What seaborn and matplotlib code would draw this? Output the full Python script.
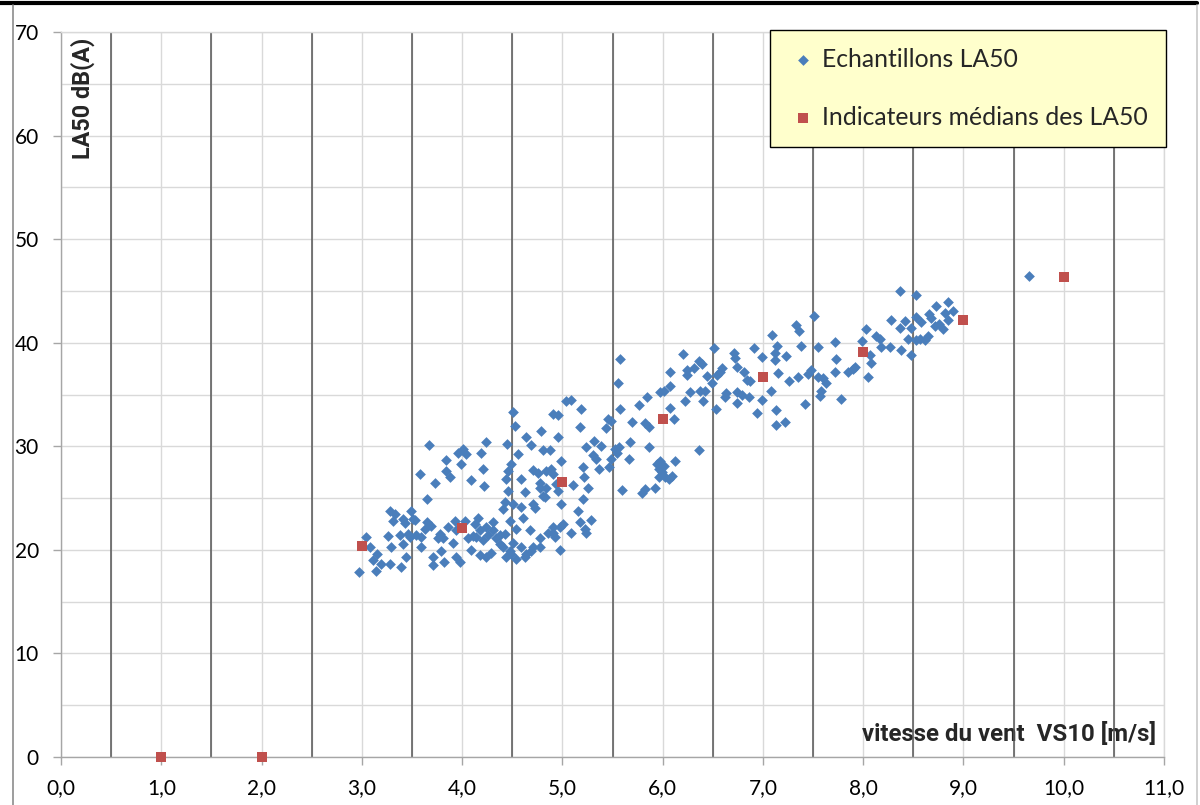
import matplotlib
matplotlib.use("Agg")
import matplotlib.pyplot as plt
from matplotlib.lines import Line2D
import pandas as pd
import seaborn as sns

# ---------------- data ----------------
sample_vs10 = [
    2.97, 3.04, 3.08, 3.11, 3.15, 3.14, 3.19, 3.26, 3.28, 3.29,
    3.31, 3.33, 3.39, 3.41, 3.44, 3.46, 3.49, 3.51, 3.38, 3.41,
    3.48, 3.58, 3.59, 3.59, 3.65, 3.67, 3.65, 3.69, 3.71, 3.73,
    3.71, 3.76, 3.79, 3.82, 3.84, 3.86, 3.84, 3.88, 3.91, 3.93,
    3.94, 3.96, 3.98, 3.99, 4.01, 4.03, 4.04, 4.06, 4.09, 4.09,
    4.13, 4.16, 4.14, 4.19, 4.21, 4.22, 4.18, 4.24, 4.24, 4.24,
    4.26, 4.29, 4.31, 4.34, 4.38, 4.41, 4.43, 4.44, 4.45, 4.44,
    4.46, 4.48, 4.49, 4.49, 4.51, 4.53, 4.54, 4.56, 4.59, 4.59,
    4.61, 4.63, 4.64, 4.64, 4.68, 4.69, 4.71, 4.71, 4.73, 4.76,
    4.78, 4.78, 4.79, 4.81, 4.83, 4.84, 4.86, 4.88, 4.89, 4.91,
    4.93, 4.96, 4.96, 4.98, 4.99, 4.99, 5.01,
    3.28, 3.43, 3.53, 3.54, 3.63, 3.78, 3.81, 3.94, 4.11, 4.18,
    4.21, 4.31, 4.38, 4.43, 4.48, 4.54, 4.63, 4.69, 4.78, 4.91,
    4.98, 4.41, 4.51, 4.46, 4.59, 4.71, 4.81, 4.84, 4.91, 4.94,
    4.78, 4.51,
    4.91, 4.96, 5.04, 5.09, 5.19, 5.18, 5.24, 5.32, 5.31, 5.34,
    5.39, 5.37, 5.21, 5.22, 5.26, 5.21, 5.11, 5.46, 5.44, 5.49,
    5.47, 5.49, 5.52, 5.56, 5.54, 5.57, 5.55, 5.57, 5.59, 5.66,
    5.67, 5.69, 5.76, 5.79, 5.82, 5.84, 5.82, 5.86, 5.86, 5.92,
    5.94, 5.96, 5.97, 5.99, 6.01, 6.02, 5.96, 5.97, 6.01, 6.07,
    6.07, 6.07, 6.11, 6.09, 6.06, 6.12, 6.20, 6.22, 6.24, 6.24,
    6.27, 6.31, 6.36, 6.37, 6.39, 6.40, 6.36, 6.42, 6.44, 6.49,
    6.51, 6.53, 6.54, 6.57, 6.59, 6.62, 6.63, 6.71, 6.72, 6.74,
    6.74, 6.74, 6.79, 6.81, 6.84, 6.86, 6.87, 6.91, 6.94, 6.99,
    6.99, 5.16, 5.18, 5.29, 5.23, 5.24, 5.09,
    7.09, 7.14, 7.12, 7.12, 7.15, 7.08, 7.13, 7.13, 7.22, 7.23,
    7.26, 7.33, 7.36, 7.38, 7.35, 7.42, 7.45, 7.48, 7.51, 7.55,
    7.55, 7.57, 7.58, 7.60, 7.63, 7.72, 7.73, 7.72, 7.78, 7.85,
    7.90, 7.92, 7.99, 8.03, 8.05, 8.07, 8.08, 8.13, 8.17, 8.18,
    8.27, 8.28, 8.37, 8.37, 8.38, 8.42, 8.45, 8.48, 8.48, 8.53,
    8.53, 8.53, 8.57, 8.58, 8.62, 8.65, 8.66, 8.68, 8.72, 8.73,
    8.76, 8.80, 8.82, 8.85, 8.85, 8.90, 9.65,
]
sample_la50 = [
    17.9, 21.2, 20.3, 19.0, 19.6, 18.0, 18.6, 21.3, 18.6, 20.3,
    22.8, 23.5, 18.3, 23.0, 19.3, 21.5, 23.8, 23.0, 21.4, 20.6,
    21.2, 27.3, 21.2, 20.3, 24.9, 30.1, 22.7, 22.3, 19.3, 26.5,
    18.5, 21.1, 19.9, 18.8, 28.7, 22.2, 27.6, 27.0, 20.7, 22.8,
    19.3, 29.4, 18.8, 28.3, 29.7, 22.8, 29.3, 21.1, 26.7, 20.0,
    22.5, 23.1, 21.2, 29.4, 27.8, 26.2, 19.5, 22.2, 30.4, 19.3,
    21.4, 19.7, 22.7, 21.1, 21.4, 20.3, 24.6, 19.3, 30.2, 26.8,
    27.6, 22.8, 28.3, 19.6, 20.7, 32.0, 22.0, 29.3, 26.8, 20.3,
    23.1, 25.6, 30.9, 19.6, 21.9, 30.1, 27.7, 20.3, 24.0, 27.4,
    26.0, 21.1, 31.5, 29.6, 25.1, 27.6, 21.6, 29.6, 27.8, 22.2,
    21.2, 25.7, 30.9, 20.0, 24.4, 28.6, 22.5,
    23.8, 22.6, 22.9, 21.4, 22.0, 21.5, 21.1, 21.9, 21.3, 21.9,
    21.0, 21.9, 20.6, 21.5, 19.9, 19.1, 19.3, 19.9, 20.3, 21.6,
    22.2, 23.9, 24.4, 25.7, 24.1, 24.4, 25.2, 26.0, 27.3, 26.4,
    26.5, 33.3,
    33.1, 33.0, 34.4, 34.5, 33.6, 31.9, 29.9, 30.5, 29.2, 28.8,
    30.0, 27.8, 28.0, 27.0, 26.0, 24.9, 26.3, 32.6, 31.8, 32.4,
    28.0, 28.8, 29.7, 29.9, 29.4, 38.4, 36.1, 33.6, 25.8, 28.8,
    30.4, 32.3, 34.0, 25.5, 25.9, 34.8, 32.2, 31.9, 29.9, 26.0,
    28.3, 27.8, 28.6, 27.5, 28.1, 27.0, 27.0, 35.2, 35.3, 35.8,
    37.2, 33.7, 32.6, 27.1, 26.8, 28.6, 38.9, 34.4, 37.4, 36.9,
    35.2, 37.6, 38.2, 35.3, 37.9, 34.4, 29.6, 35.3, 36.8, 36.1,
    39.5, 33.6, 36.9, 37.2, 37.6, 34.8, 35.1, 39.0, 38.5, 37.7,
    35.2, 34.2, 35.0, 37.2, 36.4, 34.8, 36.3, 39.5, 33.2, 38.6,
    34.5, 23.8, 22.7, 22.9, 22.0, 21.6, 21.6,
    40.7, 39.7, 39.0, 38.3, 37.1, 35.3, 33.5, 32.1, 32.3, 38.7,
    36.3, 41.7, 41.1, 39.7, 36.7, 34.1, 37.0, 37.4, 42.6, 39.6,
    36.7, 34.9, 35.3, 36.6, 36.1, 40.1, 38.4, 37.2, 34.6, 37.2,
    37.5, 37.7, 40.2, 41.3, 36.7, 38.8, 38.0, 40.6, 40.4, 39.6,
    39.6, 42.2, 45.0, 41.4, 39.3, 42.1, 40.4, 38.8, 41.4, 44.6,
    42.5, 40.3, 40.4, 42.0, 40.3, 40.6, 42.8, 42.4, 41.6, 43.5,
    41.8, 41.3, 42.9, 43.9, 42.2, 43.1, 46.4,
]
median_vs10 = [1, 2, 3, 4, 5, 6, 7, 8, 9, 10]
median_la50 = [0.0, 0.0, 20.4, 22.1, 26.6, 32.6, 36.7, 39.1, 42.2, 46.3]

x_ticks = [0, 1, 2, 3, 4, 5, 6, 7, 8, 9, 10, 11]
x_tick_labels = ["0,0", "1,0", "2,0", "3,0", "4,0", "5,0", "6,0", "7,0",
                 "8,0", "9,0", "10,0", "11,0"]
x_minor = [0.5, 1.5, 2.5, 3.5, 4.5, 5.5, 6.5, 7.5, 8.5, 9.5, 10.5]
y_ticks = [0, 10, 20, 30, 40, 50, 60, 70]
y_minor = [5, 15, 25, 35, 45, 55, 65]
class_bounds = [0.5, 1.5, 2.5, 3.5, 4.5, 5.5, 6.5, 7.5, 8.5, 9.5, 10.5]

label_samples = "Echantillons LA50"
label_medians = "Indicateurs médians des LA50"
x_title = "vitesse du vent  VS10 [m/s]"
y_title = "LA50 dB(A)"

# ---------------- styling ----------------
sns.set_theme(style="white")
plt.rcParams["font.family"] = ["Lato", "DejaVu Sans"]
bold_family = ["Roboto", "DejaVu Sans"]

W, H = 1200, 805
fig = plt.figure(figsize=(W / 100, H / 100), dpi=100)
fig.patch.set_facecolor("white")
ax = fig.add_axes([61 / W, 1 - 757 / H, 1103 / W, 725 / H])

samples = pd.DataFrame({"vs10": sample_vs10, "la50": sample_la50})
medians = pd.DataFrame({"vs10": median_vs10, "la50": median_la50})

grid_c = "#D9D9D9"
ax.set_xlim(0, 11)
ax.set_ylim(0, 70)
ax.set_xticks(x_ticks)
ax.set_xticklabels(x_tick_labels)
ax.set_xticks(x_minor, minor=True)
ax.set_yticks(y_ticks)
ax.set_yticks(y_minor, minor=True)
ax.grid(True, which="both", color=grid_c, linewidth=1.0, zorder=0)
ax.set_axisbelow(True)

ax.vlines(class_bounds, 0, 70, colors="#555555", linewidth=1.1, zorder=1.5)

sns.scatterplot(data=samples, x="vs10", y="la50", marker="D", s=30,
                color="#4A7EBB", linewidth=0, label=label_samples, ax=ax,
                zorder=3)
sns.scatterplot(data=medians, x="vs10", y="la50", marker="s", s=56,
                color="#C0504D", linewidth=0, label=label_medians, ax=ax,
                zorder=4, clip_on=False)

ax.set_xlabel("")
ax.set_ylabel("")

for side in ["left", "bottom"]:
    ax.spines[side].set_color("#A6A6A6")
    ax.spines[side].set_linewidth(1.0)
for side in ["top", "right"]:
    ax.spines[side].set_color(grid_c)
    ax.spines[side].set_linewidth(1.0)

ax.tick_params(axis="both", which="major", direction="out", length=6,
               width=1.0, color="#A6A6A6", labelsize=15, labelcolor="black")
ax.tick_params(axis="both", which="minor", length=0)
ax.tick_params(axis="x", bottom=True, pad=9)
ax.tick_params(axis="y", left=True, pad=10)

ax.text(0.0195, 0.992, y_title, rotation=90, transform=ax.transAxes,
        ha="center", va="top", fontsize=16.8, fontweight="bold",
        family=bold_family, zorder=1.2)
ax.text(0.9925, 0.0225, x_title, transform=ax.transAxes, ha="right",
        va="baseline", fontsize=17.3, fontweight="bold",
        family=bold_family, zorder=1.2)

leg = ax.legend(loc="upper right", bbox_to_anchor=(1.0018, 1.003),
                borderaxespad=0, frameon=True, fancybox=False,
                facecolor="#FFFFCC", edgecolor="black", framealpha=1,
                fontsize=17.8, labelspacing=1.42, borderpad=0.72,
                handlelength=1.2, handletextpad=0.2)
leg.get_frame().set_linewidth(1.0)
leg.set_zorder(10)

# chart-area border
fig.add_artist(Line2D([0, 1197 / W], [1 - 3.5 / H] * 2, color="black",
                      linewidth=3, transform=fig.transFigure))
fig.add_artist(Line2D([13 / W] * 2, [0, 1 - 5 / H], color="#8C8C8C",
                      linewidth=1.2, transform=fig.transFigure))
fig.add_artist(Line2D([1197 / W] * 2, [0, 1 - 5 / H], color="#C8C8C8",
                      linewidth=1.2, transform=fig.transFigure))

fig.savefig("out.png", dpi=100, facecolor="white")
